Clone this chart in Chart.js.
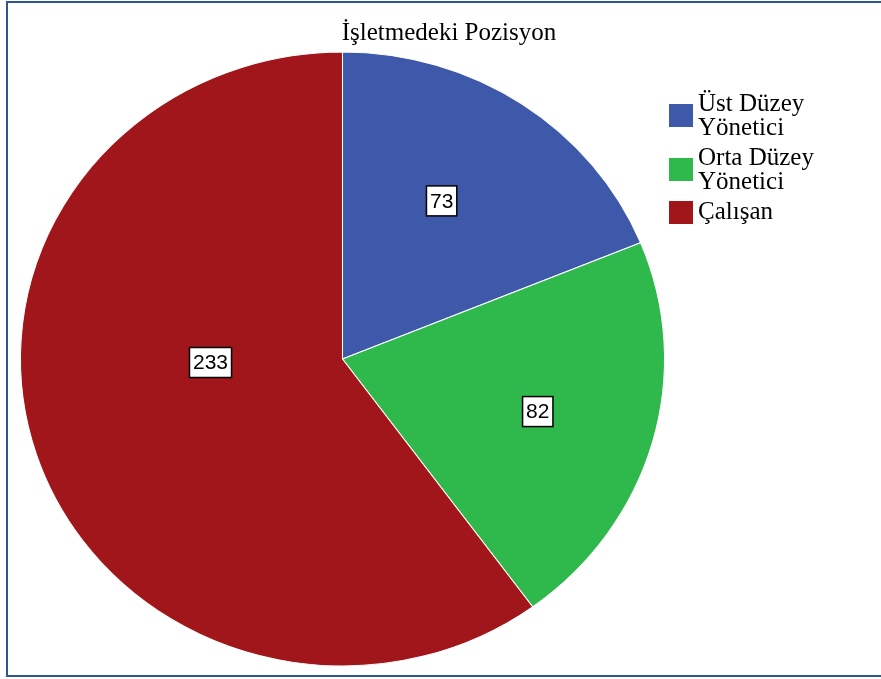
<!DOCTYPE html>
<html>
<head>
<meta charset="utf-8">
<script src="https://cdn.jsdelivr.net/npm/chart.js@4"></script>
<style>
  html, body { margin: 0; padding: 0; background: #fff; }
  #wrap { width: 881px; height: 679px; position: relative; }
</style>
</head>
<body>
<div id="wrap"><canvas id="position_chart"></canvas></div>
<script>
const chartTitle = "İşletmedeki Pozisyon";
const positions = [["Üst Düzey", "Yönetici"], ["Orta Düzey", "Yönetici"], ["Çalışan"]];
const counts = [73, 82, 233];
const sliceColors = ["#3e58aa", "#2fb84b", "#a0161a"];

// where each count box sits: fraction of radius and shift from the slice middle (degrees)
const boxPlacement = [
    { frac: 0.60, shift: -3 },
    { frac: 0.63, shift: 0 },
    { frac: 0.41, shift: 16.5 }
];
const stretchX = 1.049;

const spssLook = {
    id: "spssLook",
    beforeDraw(chart) {
        const c = chart.ctx;
        c.save();
        c.fillStyle = "#fff";
        c.fillRect(0, 0, chart.width, chart.height);
        c.strokeStyle = "#2f5593";
        c.lineWidth = 2;
        c.beginPath();
        c.moveTo(chart.width, 2);
        c.lineTo(7, 2);
        c.lineTo(7, 676);
        c.lineTo(chart.width, 676);
        c.stroke();
        c.restore();
    },
    beforeDatasetsDraw(chart) {
        const arc = chart.getDatasetMeta(0).data[0];
        const c = chart.ctx;
        c.save();
        c.translate(arc.x, arc.y);
        c.scale(stretchX, 1);
        c.translate(-arc.x, -arc.y);
    },
    afterDatasetsDraw(chart) {
        const c = chart.ctx;
        c.restore();
        const arcs = chart.getDatasetMeta(0).data;
        c.save();
        c.font = "21px 'Liberation Sans', Arial, sans-serif";
        c.textAlign = "center";
        c.textBaseline = "middle";
        arcs.forEach((arc, i) => {
            const p = boxPlacement[i];
            const a = (arc.startAngle + arc.endAngle) / 2 + p.shift * Math.PI / 180;
            const r = arc.outerRadius * p.frac;
            const x = arc.x + Math.cos(a) * r * stretchX;
            const y = arc.y + Math.sin(a) * r;
            const txt = String(counts[i]);
            const w = c.measureText(txt).width + 7;
            const h = 30;
            c.fillStyle = "#fff";
            c.fillRect(x - w / 2, y - h / 2, w, h);
            c.strokeStyle = "#000";
            c.lineWidth = 1.5;
            c.strokeRect(x - w / 2, y - h / 2, w, h);
            c.fillStyle = "#000";
            c.fillText(txt, x, y + 1);
        });
        c.restore();
    },
    afterDraw(chart) {
        const c = chart.ctx;
        c.save();
        c.fillStyle = "#000";
        c.textBaseline = "middle";
        c.font = "25px 'Liberation Serif', 'Times New Roman', serif";
        c.textAlign = "center";
        c.fillText(chartTitle, 449, 33);

        // legend on the right, wrapped names
        c.font = "25px 'Liberation Serif', 'Times New Roman', serif";
        c.textAlign = "left";
        const colors = chart.data.datasets[0].backgroundColor;
        let y = 104;
        chart.data.labels.forEach((lines, i) => {
            const boxTop = lines.length > 1 ? y + 0 : y - 11;
            c.fillStyle = colors[i];
            c.fillRect(669, boxTop, 24, 23);
            c.fillStyle = "#000";
            lines.forEach((ln, k) => c.fillText(ln, 698, y + k * 24));
            y += lines.length * 24 + 6;
        });
        c.restore();
    }
};

new Chart(document.getElementById("position_chart"), {
    type: "pie",
    data: {
        labels: positions,
        datasets: [{
            data: counts,
            backgroundColor: sliceColors,
            borderColor: "#fff",
            borderWidth: 1
        }]
    },
    options: {
        responsive: true,
        maintainAspectRatio: false,
        animation: false,
        radius: 307,
        layout: { padding: { left: 30, right: 226, top: 45, bottom: 6 } },
        plugins: {
            legend: { display: false },
            tooltip: { enabled: false }
        }
    },
    plugins: [spssLook]
});
</script>
</body>
</html>
